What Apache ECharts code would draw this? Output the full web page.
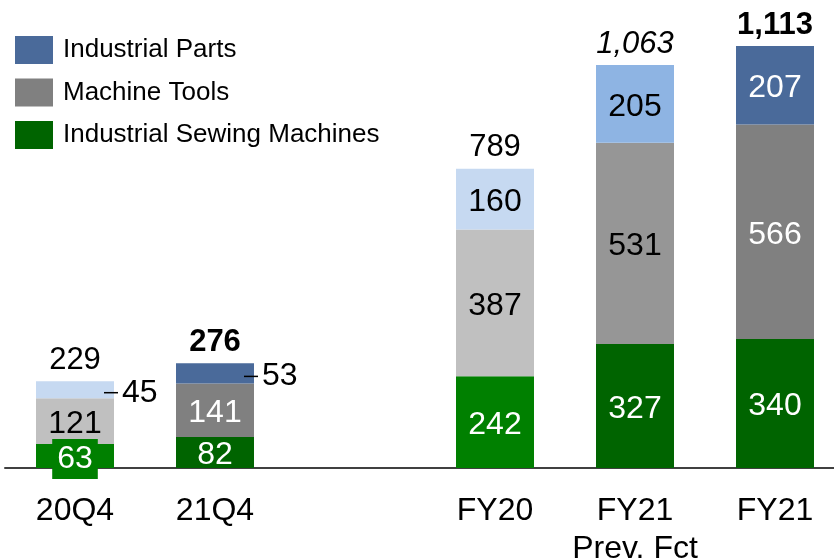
<!DOCTYPE html>
<html>
<head>
<meta charset="utf-8">
<script src="https://cdn.jsdelivr.net/npm/echarts@6/dist/echarts.min.js"></script>
<style>html,body{margin:0;padding:0;background:#fff;}#c{width:834px;height:559px;}</style>
</head>
<body>
<div id="c"></div>
<script>
// ---- data ----
const categories = ['20Q4', '21Q4', '', 'FY20', 'FY21\nPrev. Fct', 'FY21'];
const sewing = [63, 82, null, 242, 327, 340];
const tools = [121, 141, null, 387, 531, 566];
const parts = [45, 53, null, 160, 205, 207];
const totals = [229, 276, null, 789, 1063, 1113];
const seriesNames = ['Industrial Parts', 'Machine Tools', 'Industrial Sewing Machines'];

// ---- styles ----
const FONT = "'Liberation Sans', Arial, sans-serif";
const sewingColors = ['#008000', '#006400', null, '#008000', '#006400', '#006400'];
const toolsColors = ['#C0C0C0', '#808080', null, '#C0C0C0', '#969696', '#808080'];
const partsColors = ['#C6D9F1', '#4A6A9A', null, '#C6D9F1', '#8EB4E3', '#4A6A9A'];
const sewingText = ['#fff', '#fff', null, '#fff', '#fff', '#fff'];
const toolsText = ['#000', '#fff', null, '#000', '#000', '#fff'];
const partsText = ['#000', '#000', null, '#000', '#000', '#fff'];
const outsideParts = [true, true, false, false, false, false];
const totalWeight = ['normal', 'bold', 'normal', 'normal', 'normal', 'bold'];
const totalStyle = ['normal', 'normal', 'normal', 'normal', 'italic', 'normal'];

function fmt(v) { return v.toLocaleString('en-US'); }

function buildData(values, colors, textColors, extra) {
  return values.map((v, i) => {
    if (v == null) return '-';
    const item = {
      value: v,
      itemStyle: { color: colors[i] },
      label: { color: textColors[i] }
    };
    if (extra) extra(item, i);
    return item;
  });
}

const baseLabel = {
  show: true,
  position: 'inside',
  offset: [0, 3],
  fontSize: 32,
  fontFamily: FONT,
  formatter: p => fmt(p.value)
};

const option = {
  animation: false,
  backgroundColor: '#fff',
  grid: { left: 5, right: -11, top: 13, bottom: 91, outerBoundsMode: 'none', containLabel: false },
  legend: {
    data: seriesNames,
    orient: 'vertical',
    left: 15,
    top: 36,
    padding: 0,
    itemWidth: 38,
    itemHeight: 28,
    itemGap: 14.5,
    icon: 'rect',
    selectedMode: false,
    textStyle: { fontSize: 26, fontFamily: FONT, color: '#000', padding: [0, 0, 0, 5] }
  },
  xAxis: {
    type: 'category',
    data: categories,
    axisTick: { show: false },
    axisLine: { lineStyle: { color: '#404040', width: 2 } },
    axisLabel: { fontSize: 32, fontFamily: FONT, color: '#000', margin: 23.5, lineHeight: 38.5, interval: 0 }
  },
  yAxis: { type: 'value', min: 0, max: 1200, show: false },
  series: [
    {
      name: 'Industrial Sewing Machines', type: 'bar', stack: 'a', barWidth: 78,
      itemStyle: { color: '#006400' },
      label: baseLabel,
      data: buildData(sewing, sewingColors, sewingText, (item, i) => {
        if (i === 0) {
          item.label.backgroundColor = '#008000';
          item.label.padding = [4, 5];
        }
      })
    },
    {
      name: 'Machine Tools', type: 'bar', stack: 'a', barWidth: 78,
      itemStyle: { color: '#808080' },
      label: baseLabel,
      data: buildData(tools, toolsColors, toolsText)
    },
    {
      name: 'Industrial Parts', type: 'bar', stack: 'a', barWidth: 78,
      itemStyle: { color: '#4A6A9A' },
      label: baseLabel,
      data: buildData(parts, partsColors, partsText, (item, i) => {
        if (outsideParts[i]) {
          item.label.position = 'right';
          item.label.distance = -10;
          item.label.color = '#000';
          item.label.formatter = '{d| }{v|' + fmt(parts[i]) + '}';
          item.label.rich = {
            d: { width: 14, height: 1.5, backgroundColor: '#000', fontSize: 2, lineHeight: 2, verticalAlign: 'middle' },
            v: { fontSize: 32, fontFamily: FONT, color: '#000', padding: [0, 0, 0, 4], verticalAlign: 'middle' }
          };
        }
      })
    },
    {
      name: 'Total', type: 'scatter', symbolSize: 1,
      itemStyle: { color: 'rgba(0,0,0,0)', opacity: 1 },
      silent: true,
      label: {
        show: true, position: 'top', distance: 5, fontSize: 31, fontFamily: FONT, color: '#000',
        formatter: p => fmt(p.value)
      },
      data: totals.map((v, i) => v == null ? '-' : {
        value: v,
        label: { fontWeight: totalWeight[i], fontStyle: totalStyle[i] }
      })
    }
  ]
};

const chart = echarts.init(document.getElementById('c'), null, { renderer: 'canvas' });
chart.setOption(option);
</script>
</body>
</html>
